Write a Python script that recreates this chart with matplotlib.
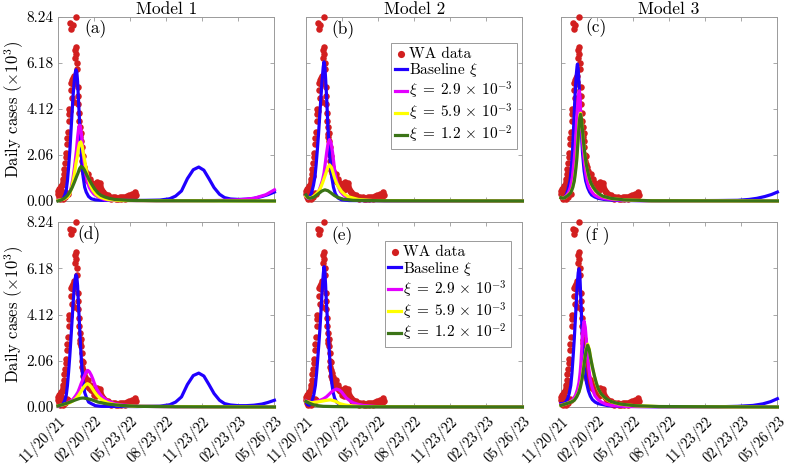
import matplotlib
matplotlib.use('Agg')
import matplotlib.pyplot as plt

plt.rcParams['font.family'] = 'serif'
plt.rcParams['font.serif'] = ['cmr10']
plt.rcParams['mathtext.fontset'] = 'cm'
plt.rcParams['axes.unicode_minus'] = False
plt.rcParams['axes.formatter.use_mathtext'] = True

# ---------------- data ----------------
xtick_days = [0, 92, 184, 276, 368, 460, 552]
xtick_labels = ['11/20/21', '02/20/22', '05/23/22', '08/23/22', '11/23/22', '02/23/23', '05/26/23']
ytick_vals = [0.0, 2.06, 4.12, 6.18, 8.24]
ytick_labels = ['0.00', '2.06', '4.12', '6.18', '8.24']
model_titles = ['Model 1', 'Model 2', 'Model 3']
panel_tags = ['(a)', '(b)', '(c)', '(d)', '(e)', '(f )']
legend_labels = ['WA data', r'Baseline $\xi$', r'$\xi\;=\;2.9\,\times\,10^{-3}$',
                 r'$\xi\;=\;5.9\,\times\,10^{-3}$', r'$\xi\;=\;1.2\,\times\,10^{-2}$']

data_days = [0, 1, 2, 3, 4, 5, 6, 7, 8, 9, 10, 11, 12, 13, 14, 15, 16, 17, 18, 19,
             20, 21, 22, 23, 24, 25, 26, 27, 28, 29, 30, 31, 32, 33, 34, 35, 36, 37, 38, 39,
             40, 41, 42, 43, 44, 45, 46, 47, 48, 49, 50, 51, 52, 53, 54, 55, 56, 57, 58, 59,
             60, 61, 62, 63, 64, 65, 66, 67, 68, 69, 70,
             72, 74, 76, 78, 80, 82, 84, 86, 88, 90, 92, 94, 96, 98, 100, 102, 104, 106, 108, 110, 112,
             115, 118, 121, 124, 127, 130, 133, 136, 139, 142, 145, 148, 151, 154, 157, 160, 163, 166,
             169, 172, 175, 178, 181, 184, 187, 190, 193, 196, 199]
data_cases = [0.30, 0.45, 0.20, 0.55, 0.35, 0.60, 0.10, 0.50, 0.65, 0.40,
              0.70, 0.15, 0.85, 1.00, 0.10, 1.20, 1.45, 1.10, 0.20, 1.70,
              1.95, 2.15, 0.35, 2.55, 2.80, 3.10, 0.30, 3.60, 4.10, 3.90,
              7.95, 4.05, 4.95, 5.30, 7.70, 5.40, 4.60, 7.88, 5.25, 5.50,
              5.60, 4.45, 5.35, 6.40, 6.75, 8.24, 6.90, 6.60, 6.20, 5.90,
              5.10, 4.70, 4.35, 3.95, 3.60, 3.30, 3.00, 2.85, 3.05, 2.70,
              2.40, 2.05, 1.80, 2.00, 1.65, 1.40, 1.50, 1.25, 1.35, 1.10, 1.20,
              1.05, 0.95, 1.20, 0.90, 0.85, 1.00, 0.75, 0.80, 0.70, 0.75,
              0.55, 0.65, 0.50, 0.60, 0.85, 0.70, 0.75, 0.80, 0.65, 0.55, 0.45,
              0.40, 0.25, 0.30, 0.20, 0.25, 0.15, 0.20, 0.10, 0.18, 0.12, 0.20, 0.10, 0.15, 0.08,
              0.16, 0.10, 0.18, 0.12, 0.20, 0.10, 0.22, 0.14, 0.25, 0.12, 0.20, 0.30, 0.18, 0.42, 0.25]

# ---- panel (a): Model 1, top ----
a_base_t = [0, 8, 13, 17, 21, 24, 27, 30, 33, 36, 39, 42, 44, 46, 48, 50, 52, 55, 58, 61,
            64, 68, 72, 78, 85, 95, 110, 200, 260, 285, 300, 315, 330, 345, 359, 372, 385, 398,
            412, 425, 440, 460, 480, 500, 520, 535, 552]
a_base_y = [0.03, 0.05, 0.10, 0.25, 0.48, 0.90, 1.50, 2.20, 3.10, 4.00, 4.85, 5.45, 5.75, 5.88,
            5.78, 5.35, 4.60, 3.55, 2.50, 1.70, 1.10, 0.62, 0.40, 0.20, 0.10, 0.05, 0.03, 0.02,
            0.04, 0.10, 0.22, 0.45, 1.00, 1.40, 1.52, 1.38, 1.00, 0.60, 0.30, 0.15, 0.09, 0.07,
            0.08, 0.12, 0.20, 0.28, 0.40]
a_xi1_t = [0, 15, 25, 30, 34, 38, 41, 44, 47, 50, 53, 55, 57, 60, 63, 66, 70, 75, 80, 85,
           92, 102, 119, 150, 250, 400, 460, 500, 530, 552]
a_xi1_y = [0.03, 0.08, 0.18, 0.35, 0.63, 1.00, 1.37, 1.80, 2.27, 2.85, 3.30, 3.40, 3.35, 2.95,
           2.35, 1.80, 1.30, 0.85, 0.60, 0.45, 0.30, 0.18, 0.06, 0.03, 0.01, 0.02, 0.05, 0.12,
           0.28, 0.50]
a_xi2_t = [0, 15, 25, 30, 34, 38, 42, 46, 49, 52, 55, 58, 61, 64, 68, 72, 76, 82, 89, 97,
           106, 127, 160, 552]
a_xi2_y = [0.03, 0.08, 0.18, 0.33, 0.55, 0.85, 1.23, 1.70, 1.97, 2.35, 2.60, 2.65, 2.50, 2.20,
           1.82, 1.42, 1.08, 0.72, 0.48, 0.30, 0.18, 0.06, 0.02, 0.0]
a_xi3_t = [0, 10, 17, 24, 30, 36, 42, 47, 51, 55, 59, 63, 67, 72, 78, 85, 93, 102, 110, 119,
           130, 144, 178, 250, 552]
a_xi3_y = [0.0, 0.06, 0.13, 0.25, 0.40, 0.60, 0.85, 1.08, 1.25, 1.45, 1.55, 1.50, 1.40, 1.22,
           1.00, 0.78, 0.55, 0.36, 0.25, 0.18, 0.12, 0.07, 0.03, 0.01, 0.0]

# ---- panel (b): Model 2, top ----
b_base_t = [0, 4, 9, 14, 19, 23, 26, 29, 32, 35, 38, 41, 44, 46, 48, 50, 53, 56, 59, 62,
            66, 70, 75, 82, 91, 110, 200, 552]
b_base_y = [0.25, 0.12, 0.15, 0.35, 0.70, 1.10, 1.65, 2.30, 3.00, 3.80, 4.60, 5.40, 6.00, 6.23,
            6.05, 5.50, 4.50, 3.30, 2.40, 1.75, 1.05, 0.62, 0.32, 0.13, 0.05, 0.02, 0.01, 0.0]
b_xi1_t = [0, 5, 10, 18, 27, 33, 37, 42, 46, 50, 53, 56, 60, 64, 68, 71, 74, 78, 82, 88,
           95, 105, 116, 140, 200, 552]
b_xi1_y = [0.22, 0.12, 0.12, 0.18, 0.28, 0.45, 0.65, 0.92, 1.25, 1.80, 2.20, 2.55, 2.75, 2.60,
           2.15, 1.70, 1.25, 0.90, 0.65, 0.42, 0.28, 0.15, 0.08, 0.03, 0.01, 0.0]
b_xi2_t = [0, 5, 14, 22, 31, 37, 42, 47, 51, 55, 60, 65, 69, 73, 78, 84, 91, 99, 108, 133,
           170, 552]
b_xi2_y = [0.22, 0.14, 0.15, 0.25, 0.40, 0.58, 0.80, 1.05, 1.25, 1.48, 1.62, 1.50, 1.27, 1.03,
           0.80, 0.60, 0.42, 0.29, 0.19, 0.07, 0.02, 0.0]
b_xi3_t = [0, 5, 10, 20, 30, 40, 48, 56, 64, 72, 80, 95, 120, 200, 552]
b_xi3_y = [0.27, 0.15, 0.12, 0.17, 0.30, 0.44, 0.50, 0.46, 0.36, 0.25, 0.17, 0.08, 0.03, 0.01, 0.0]

# ---- panel (c): Model 3, top ----
c_base_t = [0, 5, 10, 14, 18, 23, 26, 29, 31, 33, 35, 37, 39, 41, 42, 44, 46, 48, 50, 52,
            55, 59, 63, 68, 73, 78, 86, 95, 110, 129, 160, 250, 400, 451, 480, 500, 520, 537, 552]
c_base_y = [0.15, 0.12, 0.15, 0.30, 0.52, 0.90, 1.40, 2.10, 2.80, 3.60, 4.40, 5.10, 5.65, 6.02,
            6.13, 5.90, 5.30, 4.60, 3.70, 3.05, 2.15, 1.35, 0.90, 0.60, 0.40, 0.27, 0.18, 0.12,
            0.07, 0.04, 0.02, 0.01, 0.02, 0.03, 0.07, 0.12, 0.20, 0.29, 0.40]
c_xi1_t = [0, 5, 12, 19, 24, 29, 33, 36, 40, 43, 45, 47, 49, 51, 54, 57, 60, 64, 68, 72,
           78, 85, 97, 112, 146, 220, 552]
c_xi1_y = [0.15, 0.12, 0.20, 0.37, 0.62, 1.05, 1.70, 2.30, 3.60, 4.40, 4.80, 4.93, 4.50, 3.60,
           2.85, 2.24, 1.70, 1.15, 0.82, 0.60, 0.42, 0.27, 0.16, 0.10, 0.04, 0.01, 0.0]
c_xi23_t = [0, 5, 10, 18, 25, 30, 34, 37, 40, 42, 44, 46, 48, 50, 52, 55, 58, 61, 64, 68,
            72, 76, 82, 89, 97, 106, 127, 161, 230, 552]
c_xi2_y = [0.15, 0.12, 0.15, 0.26, 0.39, 0.63, 0.95, 1.38, 1.90, 2.42, 2.95, 3.45, 3.80, 3.93,
           3.70, 3.10, 2.50, 2.05, 1.65, 1.30, 1.01, 0.79, 0.60, 0.43, 0.31, 0.21, 0.11, 0.05,
           0.01, 0.0]
c_xi3_y = [0.15, 0.12, 0.15, 0.25, 0.37, 0.60, 0.90, 1.30, 1.80, 2.30, 2.84, 3.35, 3.72, 3.88,
           3.70, 3.14, 2.55, 2.10, 1.70, 1.35, 1.05, 0.82, 0.62, 0.45, 0.32, 0.22, 0.12, 0.05,
           0.01, 0.0]

# ---- panel (d): Model 1, bottom ----
d_base_t = a_base_t
d_base_y = [0.03, 0.06, 0.14, 0.28, 0.52, 0.95, 1.56, 2.25, 3.05, 3.90, 4.75, 5.40, 5.75, 5.89,
            5.80, 5.40, 4.65, 3.60, 2.55, 1.75, 1.15, 0.65, 0.45, 0.22, 0.15, 0.06, 0.03, 0.02,
            0.04, 0.10, 0.22, 0.45, 1.00, 1.40, 1.51, 1.38, 1.00, 0.60, 0.30, 0.15, 0.09, 0.06,
            0.06, 0.08, 0.13, 0.20, 0.30]
d_xi1_t = [0, 10, 21, 30, 38, 45, 51, 55, 59, 64, 68, 72, 76, 80, 85, 89, 93, 99, 106, 112,
           119, 130, 144, 160, 178, 212, 300, 552]
d_xi1_y = [0.05, 0.09, 0.15, 0.24, 0.34, 0.50, 0.67, 0.85, 1.04, 1.25, 1.41, 1.57, 1.63, 1.57,
           1.41, 1.24, 1.04, 0.80, 0.60, 0.47, 0.37, 0.25, 0.15, 0.10, 0.07, 0.03, 0.01, 0.0]
d_xi2_t = [0, 15, 30, 40, 47, 53, 58, 62, 66, 70, 75, 80, 85, 89, 93, 99, 106, 115, 127, 145,
           161, 200, 552]
d_xi2_y = [0.05, 0.11, 0.19, 0.29, 0.40, 0.53, 0.67, 0.78, 0.89, 0.98, 1.04, 0.99, 0.89, 0.78,
           0.67, 0.53, 0.40, 0.29, 0.19, 0.11, 0.07, 0.03, 0.0]
d_xi3_t = [0, 12, 25, 35, 42, 50, 57, 64, 72, 85, 102, 127, 161, 203, 300, 552]
d_xi3_y = [0.05, 0.11, 0.18, 0.25, 0.30, 0.35, 0.39, 0.40, 0.38, 0.33, 0.22, 0.13, 0.07, 0.03,
           0.01, 0.0]

# ---- panel (e): Model 2, bottom ----
e_base_t = [0, 4, 9, 16, 20, 24, 27, 30, 33, 36, 39, 41, 44, 46, 48, 50, 52, 55, 57, 60,
            63, 66, 69, 73, 78, 85, 93, 110, 200, 552]
e_base_y = [0.22, 0.10, 0.08, 0.30, 0.55, 0.96, 1.50, 2.15, 2.85, 3.60, 4.50, 5.10, 5.90, 6.25,
            6.05, 5.45, 4.67, 3.80, 3.20, 2.30, 1.56, 1.05, 0.67, 0.40, 0.22, 0.12, 0.07, 0.03,
            0.01, 0.0]
e_xi1_t = [0, 7, 14, 25, 36, 45, 52, 58, 65, 71, 78, 85, 91, 97, 103, 111, 120, 133, 146, 180, 552]
e_xi1_y = [0.28, 0.22, 0.19, 0.23, 0.30, 0.37, 0.45, 0.55, 0.67, 0.75, 0.80, 0.76, 0.67, 0.53,
           0.40, 0.29, 0.19, 0.12, 0.07, 0.02, 0.0]
e_xi2_t = [0, 15, 35, 50, 62, 75, 86, 100, 112, 140, 552]
e_xi2_y = [0.25, 0.19, 0.24, 0.29, 0.32, 0.26, 0.15, 0.09, 0.06, 0.02, 0.0]
e_xi3_t = [0, 10, 19, 30, 44, 70, 120, 552]
e_xi3_y = [0.25, 0.16, 0.10, 0.06, 0.03, 0.02, 0.01, 0.0]

# ---- panel (f): Model 3, bottom ----
f_base_t = [0, 6, 12, 17, 21, 25, 28, 31, 34, 37, 40, 42, 44, 46, 48, 51, 53, 55, 58, 61,
            65, 70, 75, 80, 87, 95, 120, 160, 250, 400, 450, 490, 515, 535, 552]
f_base_y = [0.15, 0.15, 0.22, 0.37, 0.60, 0.96, 1.50, 2.25, 3.05, 4.00, 4.97, 5.55, 5.98, 6.16,
            5.95, 4.67, 3.75, 2.90, 2.10, 1.56, 1.10, 0.72, 0.48, 0.33, 0.22, 0.15, 0.06, 0.03,
            0.01, 0.01, 0.03, 0.07, 0.14, 0.24, 0.37]
f_xi1_t = [0, 12, 23, 30, 37, 42, 46, 49, 51, 54, 56, 59, 62, 65, 68, 71, 74, 78, 86, 94,
           103, 115, 129, 170, 552]
f_xi1_y = [0.10, 0.14, 0.22, 0.33, 0.52, 0.78, 1.10, 1.55, 2.00, 2.90, 3.45, 3.82, 3.55, 2.90,
           2.25, 1.70, 1.30, 0.96, 0.52, 0.34, 0.22, 0.12, 0.07, 0.02, 0.0]
f_xi23_t = [0, 14, 25, 34, 40, 46, 50, 54, 58, 61, 64, 68, 72, 76, 80, 85, 90, 95, 102, 110,
            118, 127, 140, 153, 187, 250, 552]
f_xi2_y = [0.07, 0.15, 0.22, 0.31, 0.47, 0.70, 0.97, 1.32, 1.82, 2.22, 2.56, 2.80, 2.58, 2.15,
           1.78, 1.38, 1.05, 0.80, 0.58, 0.43, 0.32, 0.24, 0.17, 0.12, 0.06, 0.02, 0.0]
f_xi3_y = [0.07, 0.15, 0.21, 0.30, 0.45, 0.67, 0.92, 1.26, 1.75, 2.15, 2.50, 2.75, 2.55, 2.15,
           1.80, 1.41, 1.08, 0.82, 0.60, 0.45, 0.34, 0.25, 0.18, 0.13, 0.06, 0.02, 0.0]

# ---------------- style ----------------
c_data = '#d21f1f'
c_lines = ['#2000ff', '#e300ff', '#ffff00', '#3b7417']
c_axis = '#9a9a9a'

panels = [
    [(a_base_t, a_base_y), (a_xi1_t, a_xi1_y), (a_xi2_t, a_xi2_y), (a_xi3_t, a_xi3_y)],
    [(b_base_t, b_base_y), (b_xi1_t, b_xi1_y), (b_xi2_t, b_xi2_y), (b_xi3_t, b_xi3_y)],
    [(c_base_t, c_base_y), (c_xi1_t, c_xi1_y), (c_xi23_t, c_xi2_y), (c_xi23_t, c_xi3_y)],
    [(d_base_t, d_base_y), (d_xi1_t, d_xi1_y), (d_xi2_t, d_xi2_y), (d_xi3_t, d_xi3_y)],
    [(e_base_t, e_base_y), (e_xi1_t, e_xi1_y), (e_xi2_t, e_xi2_y), (e_xi3_t, e_xi3_y)],
    [(f_base_t, f_base_y), (f_xi1_t, f_xi1_y), (f_xi23_t, f_xi2_y), (f_xi23_t, f_xi3_y)],
]
tag_pos = [(66, 8.15), (66, 8.10), (62, 8.20), (49, 8.10), (66, 8.05), (62, 8.05)]
legend_anchor = {1: (0.975, 0.858), 4: (0.945, 0.895)}

fig = plt.figure(figsize=(7.87, 4.66), dpi=100)
col_left = [0.0737, 0.3888, 0.7128]
ax_w = 0.2750
row_geom = [(0.5687, 0.3948), (0.1266, 0.3970)]

for i, curves in enumerate(panels):
    r, c = divmod(i, 3)
    ax = fig.add_axes([col_left[c], row_geom[r][0], ax_w, row_geom[r][1]])
    sc = ax.scatter(data_days, data_cases, s=22, color=c_data, linewidths=0,
                    zorder=2, clip_on=False, label=legend_labels[0])
    handles = [sc]
    for k, (t, y) in enumerate(curves):
        ln, = ax.plot(t, y, color=c_lines[k], lw=2.3, zorder=3 + k, clip_on=False,
                      label=legend_labels[k + 1])
        handles.append(ln)
    ax.set_xlim(0, 552)
    ax.set_ylim(0, 8.24)
    ax.set_xticks(xtick_days)
    ax.set_yticks(ytick_vals)
    if r == 1:
        ax.set_xticklabels(xtick_labels, rotation=45, ha='right', va='top',
                           rotation_mode='anchor', fontsize=10.5)
    else:
        ax.set_xticklabels([])
    if c == 0:
        ax.set_yticklabels(ytick_labels, fontsize=11)
        ax.set_ylabel(r'Daily cases $(\times 10^3)$', fontsize=12, labelpad=0)
    else:
        ax.set_yticklabels([])
    ax.tick_params(direction='in', top=True, right=True, length=3, width=0.6,
                   color=c_axis, pad=3)
    ax.tick_params(axis='x', pad=5)
    for sp in ax.spines.values():
        sp.set_color(c_axis)
        sp.set_linewidth(0.7)
        sp.set_zorder(1)
    if r == 0:
        ax.set_title(model_titles[c], fontsize=12.5, pad=2)
    ax.text(tag_pos[i][0], tag_pos[i][1], panel_tags[i], fontsize=12.5,
            ha='left', va='top', zorder=10)
    if i in legend_anchor:
        leg = ax.legend(handles=handles, loc='upper right', bbox_to_anchor=legend_anchor[i],
                        fontsize=11, frameon=True, fancybox=False, edgecolor=c_axis,
                        framealpha=1, handlelength=0.8, handletextpad=0.15, borderpad=0.25,
                        labelspacing=0.05, borderaxespad=0, scatterpoints=1, markerscale=1.1)
        leg.get_frame().set_linewidth(0.7)
        leg.set_zorder(20)

fig.savefig('out.png', dpi=100)
